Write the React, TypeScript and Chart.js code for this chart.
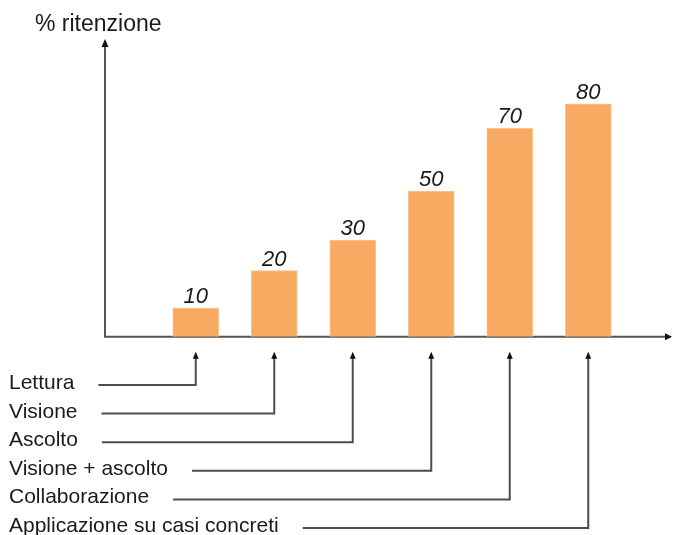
import React, { useEffect, useRef } from "react";
import Chart from "chart.js/auto";

// ---- data ----
const categories = [
  "Lettura",
  "Visione",
  "Ascolto",
  "Visione + ascolto",
  "Collaborazione",
  "Applicazione su casi concreti",
];
// bar heights as drawn in the picture
const barHeights = [9.8, 22.7, 33.2, 50, 71.6, 80];
// value labels printed above the bars
const valueLabels = ["10", "20", "30", "50", "70", "80"];
const yAxisTitle = "% ritenzione";

// ---- style / layout ----
const FONT = '"Liberation Sans", Arial, Helvetica, sans-serif';
const BAR_COLOR = "#F9AA62";
const BAR_BORDER = "#FCC590";
const AXIS_COLOR = "#555555";
const LINE_COLOR = "#4d4d4d";
const TEXT_COLOR = "#1a1a1a";

const AXIS_LEFT = 105;
const AXIS_RIGHT = 672;

function arrowUp(ctx: CanvasRenderingContext2D, x: number, tipY: number, w: number, h: number) {
  ctx.beginPath();
  ctx.moveTo(x, tipY);
  ctx.lineTo(x - w / 2, tipY + h);
  ctx.lineTo(x + w / 2, tipY + h);
  ctx.closePath();
  ctx.fill();
}

const decorPlugin = {
  id: "decor",
  beforeDatasetsDraw(chart: any) {
    const ctx: CanvasRenderingContext2D = chart.ctx;
    const area = chart.chartArea;
    const base = chart.scales.y.getPixelForValue(0);
    ctx.save();
    ctx.strokeStyle = AXIS_COLOR;
    ctx.fillStyle = "#111";
    ctx.lineWidth = 2;
    // y axis
    ctx.beginPath();
    ctx.moveTo(AXIS_LEFT, base);
    ctx.lineTo(AXIS_LEFT, area.top + 5);
    ctx.stroke();
    arrowUp(ctx, AXIS_LEFT, area.top, 7, 8);
    // x axis
    ctx.beginPath();
    ctx.moveTo(AXIS_LEFT - 1, base);
    ctx.lineTo(AXIS_RIGHT - 5, base);
    ctx.stroke();
    ctx.beginPath();
    ctx.moveTo(AXIS_RIGHT, base);
    ctx.lineTo(AXIS_RIGHT - 7, base - 3.5);
    ctx.lineTo(AXIS_RIGHT - 7, base + 3.5);
    ctx.closePath();
    ctx.fill();

    // title
    ctx.fillStyle = TEXT_COLOR;
    ctx.font = `23px ${FONT}`;
    ctx.textAlign = "left";
    ctx.textBaseline = "alphabetic";
    ctx.fillText(yAxisTitle, 35, 31);
    ctx.restore();
  },
  afterDatasetsDraw(chart: any) {
    const ctx: CanvasRenderingContext2D = chart.ctx;
    const meta = chart.getDatasetMeta(0);
    const base = chart.scales.y.getPixelForValue(0);
    ctx.save();
    // value labels
    ctx.fillStyle = TEXT_COLOR;
    ctx.font = `italic 22px ${FONT}`;
    ctx.textAlign = "center";
    ctx.textBaseline = "alphabetic";
    meta.data.forEach((bar: any, i: number) => {
      ctx.fillText(valueLabels[i], bar.x, bar.y - 5);
    });

    // category labels with connectors
    ctx.font = `21px ${FONT}`;
    ctx.textAlign = "left";
    ctx.textBaseline = "alphabetic";
    meta.data.forEach((bar: any, i: number) => {
      const ty = 389 + i * 28.6;
      const ly = ty - 4;
      ctx.fillStyle = TEXT_COLOR;
      ctx.fillText(categories[i], 9, ty);
      const tw = ctx.measureText(categories[i]).width;
      const startX = Math.max(AXIS_LEFT - 8, 9 + tw + 24);
      ctx.strokeStyle = LINE_COLOR;
      ctx.lineWidth = 2;
      ctx.beginPath();
      ctx.moveTo(startX, ly);
      ctx.lineTo(bar.x, ly);
      ctx.lineTo(bar.x, base + 21);
      ctx.stroke();
      ctx.fillStyle = "#111";
      arrowUp(ctx, bar.x, base + 15, 6, 7);
    });
    ctx.restore();
  },
};

export default function App() {
  const ref = useRef<HTMLCanvasElement | null>(null);
  useEffect(() => {
    if (!ref.current) return;
    const chart = new Chart(ref.current, {
      type: "bar",
      data: {
        labels: categories,
        datasets: [
          {
            data: barHeights,
            backgroundColor: BAR_COLOR,
            borderColor: BAR_BORDER,
            borderWidth: 1,
            barThickness: 46,
          },
        ],
      },
      options: {
        responsive: false,
        animation: false,
        layout: { padding: { left: 156.5, right: 45.5, top: 39, bottom: 198.3 } },
        scales: {
          x: { display: false },
          y: { display: false, min: 0, max: 102.3 },
        },
        plugins: { legend: { display: false }, tooltip: { enabled: false } },
      },
      plugins: [decorPlugin],
    });
    return () => chart.destroy();
  }, []);
  return (
    <div style={{ position: "fixed", left: 0, top: 0, width: 673, height: 535, background: "#fff" }}>
      <canvas ref={ref} width={673} height={535} style={{ width: 673, height: 535 }} />
    </div>
  );
}
